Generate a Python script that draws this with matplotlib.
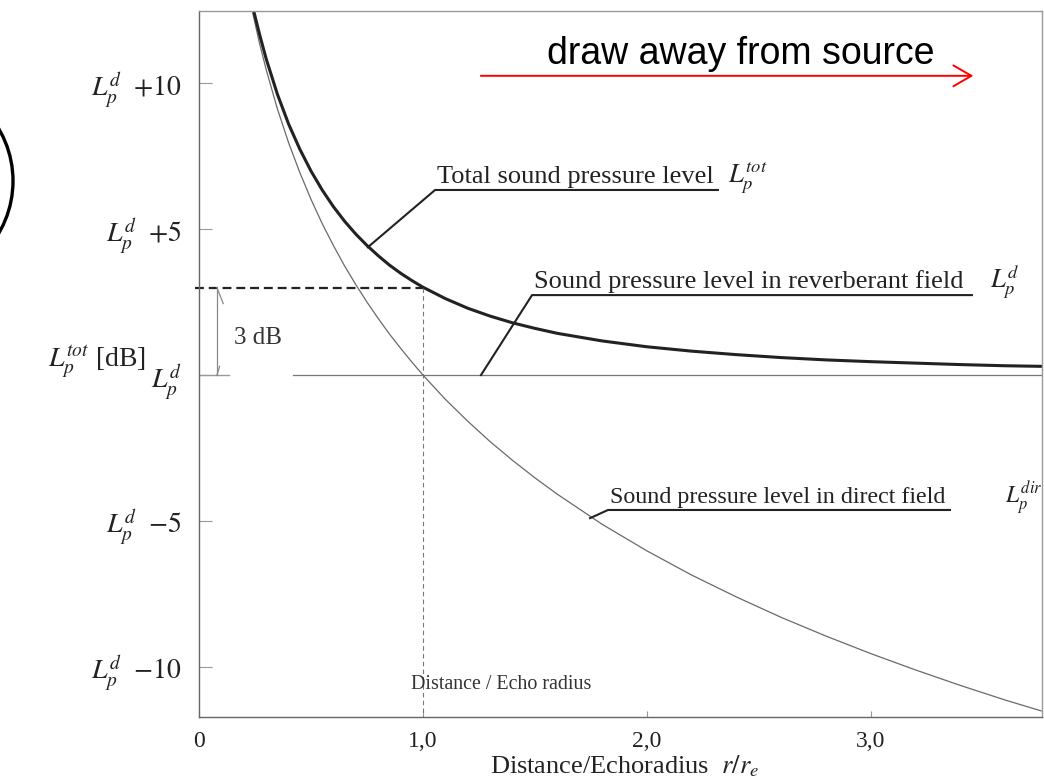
import matplotlib
matplotlib.use("Agg")
import matplotlib.pyplot as plt
from matplotlib.patches import Ellipse

plt.rcParams['font.family'] = ['Liberation Serif', 'DejaVu Serif']
plt.rcParams['mathtext.fontset'] = 'stix'

# ---- data ----
r_dist = [0.24, 0.27, 0.30, 0.35, 0.40, 0.45, 0.50, 0.55, 0.60, 0.65, 0.70,
          0.75, 0.80, 0.85, 0.90, 0.95, 1.00, 1.10, 1.20, 1.30, 1.40, 1.50,
          1.60, 1.80, 2.00, 2.20, 2.40, 2.60, 2.80, 3.00, 3.20, 3.40, 3.60, 3.76]
L_direct = [12.40, 11.37, 10.46, 9.12, 7.96, 6.94, 6.02, 5.19, 4.44, 3.74, 3.10,
            2.50, 1.94, 1.41, 0.92, 0.45, 0.00, -0.83, -1.58, -2.28, -2.92, -3.52,
            -4.08, -5.11, -6.02, -6.85, -7.60, -8.30, -8.94, -9.54, -10.10, -10.63,
            -11.13, -11.50]
L_total = [12.60, 11.68, 10.83, 9.62, 8.60, 7.74, 6.99, 6.34, 5.77, 5.27, 4.83,
           4.44, 4.09, 3.77, 3.49, 3.24, 3.01, 2.62, 2.29, 2.02, 1.79, 1.60,
           1.43, 1.17, 0.97, 0.82, 0.70, 0.60, 0.52, 0.46, 0.41, 0.36, 0.32, 0.30]
rev_x = [0.42, 3.76]
rev_y = [0.0, 0.0]
echo_r = 1.0
echo_db = 3.0

ytick_vals = [10, 5, 0, -5, -10]
ytick_labels = [r'$L_p^d\ \ {+}10$', r'$L_p^d\ \ {+}5$', r'$L_p^d$',
                r'$L_p^d\ \ {-}5$', r'$L_p^d\ \ {-}10$']
xtick_vals = [0, 1, 2, 3]
xtick_labels = ['0', '1,0', '2,0', '3,0']

W, H = 1044, 778
fig = plt.figure(figsize=(W/100, H/100), dpi=100)
ax = fig.add_axes([199/W, 1-717/H, (1042-199)/W, (717-11)/H])
ax.set_xlim(0, 3.764)
ax.set_ylim(-11.71, 12.47)

for name, s in ax.spines.items():
    s.set_linewidth(1.0)
    s.set_color('#666666' if name in ('left', 'bottom') else '#999999')

# curves
ax.plot(r_dist, L_direct, color='#6a6a6a', lw=0.9)
ax.plot(r_dist, L_total, color='#222222', lw=2.2, solid_capstyle='round')
ax.plot(rev_x, rev_y, color='#777777', lw=0.9)
ax.plot([0, 0.135], [0, 0], color='#999999', lw=1.0)

# echo radius markers
ax.plot([-0.02, echo_r], [echo_db, echo_db], color='#222222', lw=1.6,
        dashes=(4, 2.2), clip_on=False)
ax.plot([echo_r, echo_r], [echo_db, -11.71], color='#777777', lw=0.8,
        dashes=(4, 3))

# 3 dB arrow
ax.plot([0.08, 0.08], [echo_db, 0], color='#888888', lw=0.9)
ax.plot([0.08, 0.108], [echo_db, 2.45], color='#888888', lw=0.9)
ax.plot([0.092, 0.08], [0.3, 0.0], color='#888888', lw=0.9)
ax.text(0.155, 1.28, '3 dB', fontsize=18, va='center', ha='left', color='#333333')

# ticks
ax.set_yticks(ytick_vals)
ax.set_yticklabels(ytick_labels, fontsize=20, color='#222222')
ax.set_xticks(xtick_vals)
ax.set_xticklabels(xtick_labels, fontsize=17, color='#222222')
ax.tick_params(axis='y', direction='in', length=9, width=0.8, color='#999999', pad=12)
ax.tick_params(axis='x', direction='in', length=4, width=0.8, color='#999999', pad=10)
fig.text(490/W, 1-773/H, r'Distance/Echoradius  $r/r_e$', fontsize=19,
         ha='left', va='baseline', color='#222222')

# labels with underline + leader
def label(x0, x1, y, text, sym, xl, yl, sx, fs=19, sfs=19):
    ax.plot([xl, x0, x1], [yl, y, y], color='#222222', lw=1.5)
    ax.text(x0 + 0.01, y + 0.24, text, fontsize=fs, ha='left', va='baseline',
            color='#222222')
    ax.text(sx, y + 0.24, sym, fontsize=sfs, ha='left', va='baseline', color='#222222')

label(1.054, 2.317, 6.34, 'Total sound pressure level', r'$L_p^{tot}$', 0.754, 4.38, 2.36)
label(1.487, 3.451, 2.74, 'Sound pressure level in reverberant field', r'$L_p^{d}$',
      1.259, 0.0, 3.53)
label(1.826, 3.353, -4.62, 'Sound pressure level in direct field', r'$L_p^{dir}$',
      1.746, -4.90, 3.60, fs=17.3, sfs=17)

ax.text(0.947, -10.58, 'Distance / Echo radius', fontsize=14.4, ha='left', va='center',
        color='#333333')

# red arrow and text
ax.annotate('', xy=(3.47, 10.25), xytext=(1.246, 10.25),
            arrowprops=dict(arrowstyle='->,head_length=1.3,head_width=0.75',
                            color='red', lw=1.4))
ax.text(2.42, 10.67, 'draw away from source', fontsize=27, ha='center', va='baseline',
        color='black', family=['Liberation Sans', 'DejaVu Sans'])

# axis name
fig.text(48/W, 1-362/H, r'$L_p^{tot}$ [dB]', fontsize=20, ha='left', va='center',
         color='#222222')

# partial circle at left edge
fig.patches.append(Ellipse((-90/W, 1-181/H), 2*103/W, 2*103/H,
                           transform=fig.transFigure, fill=False, lw=2.4,
                           edgecolor='black'))

fig.savefig('out.png', dpi=100)
